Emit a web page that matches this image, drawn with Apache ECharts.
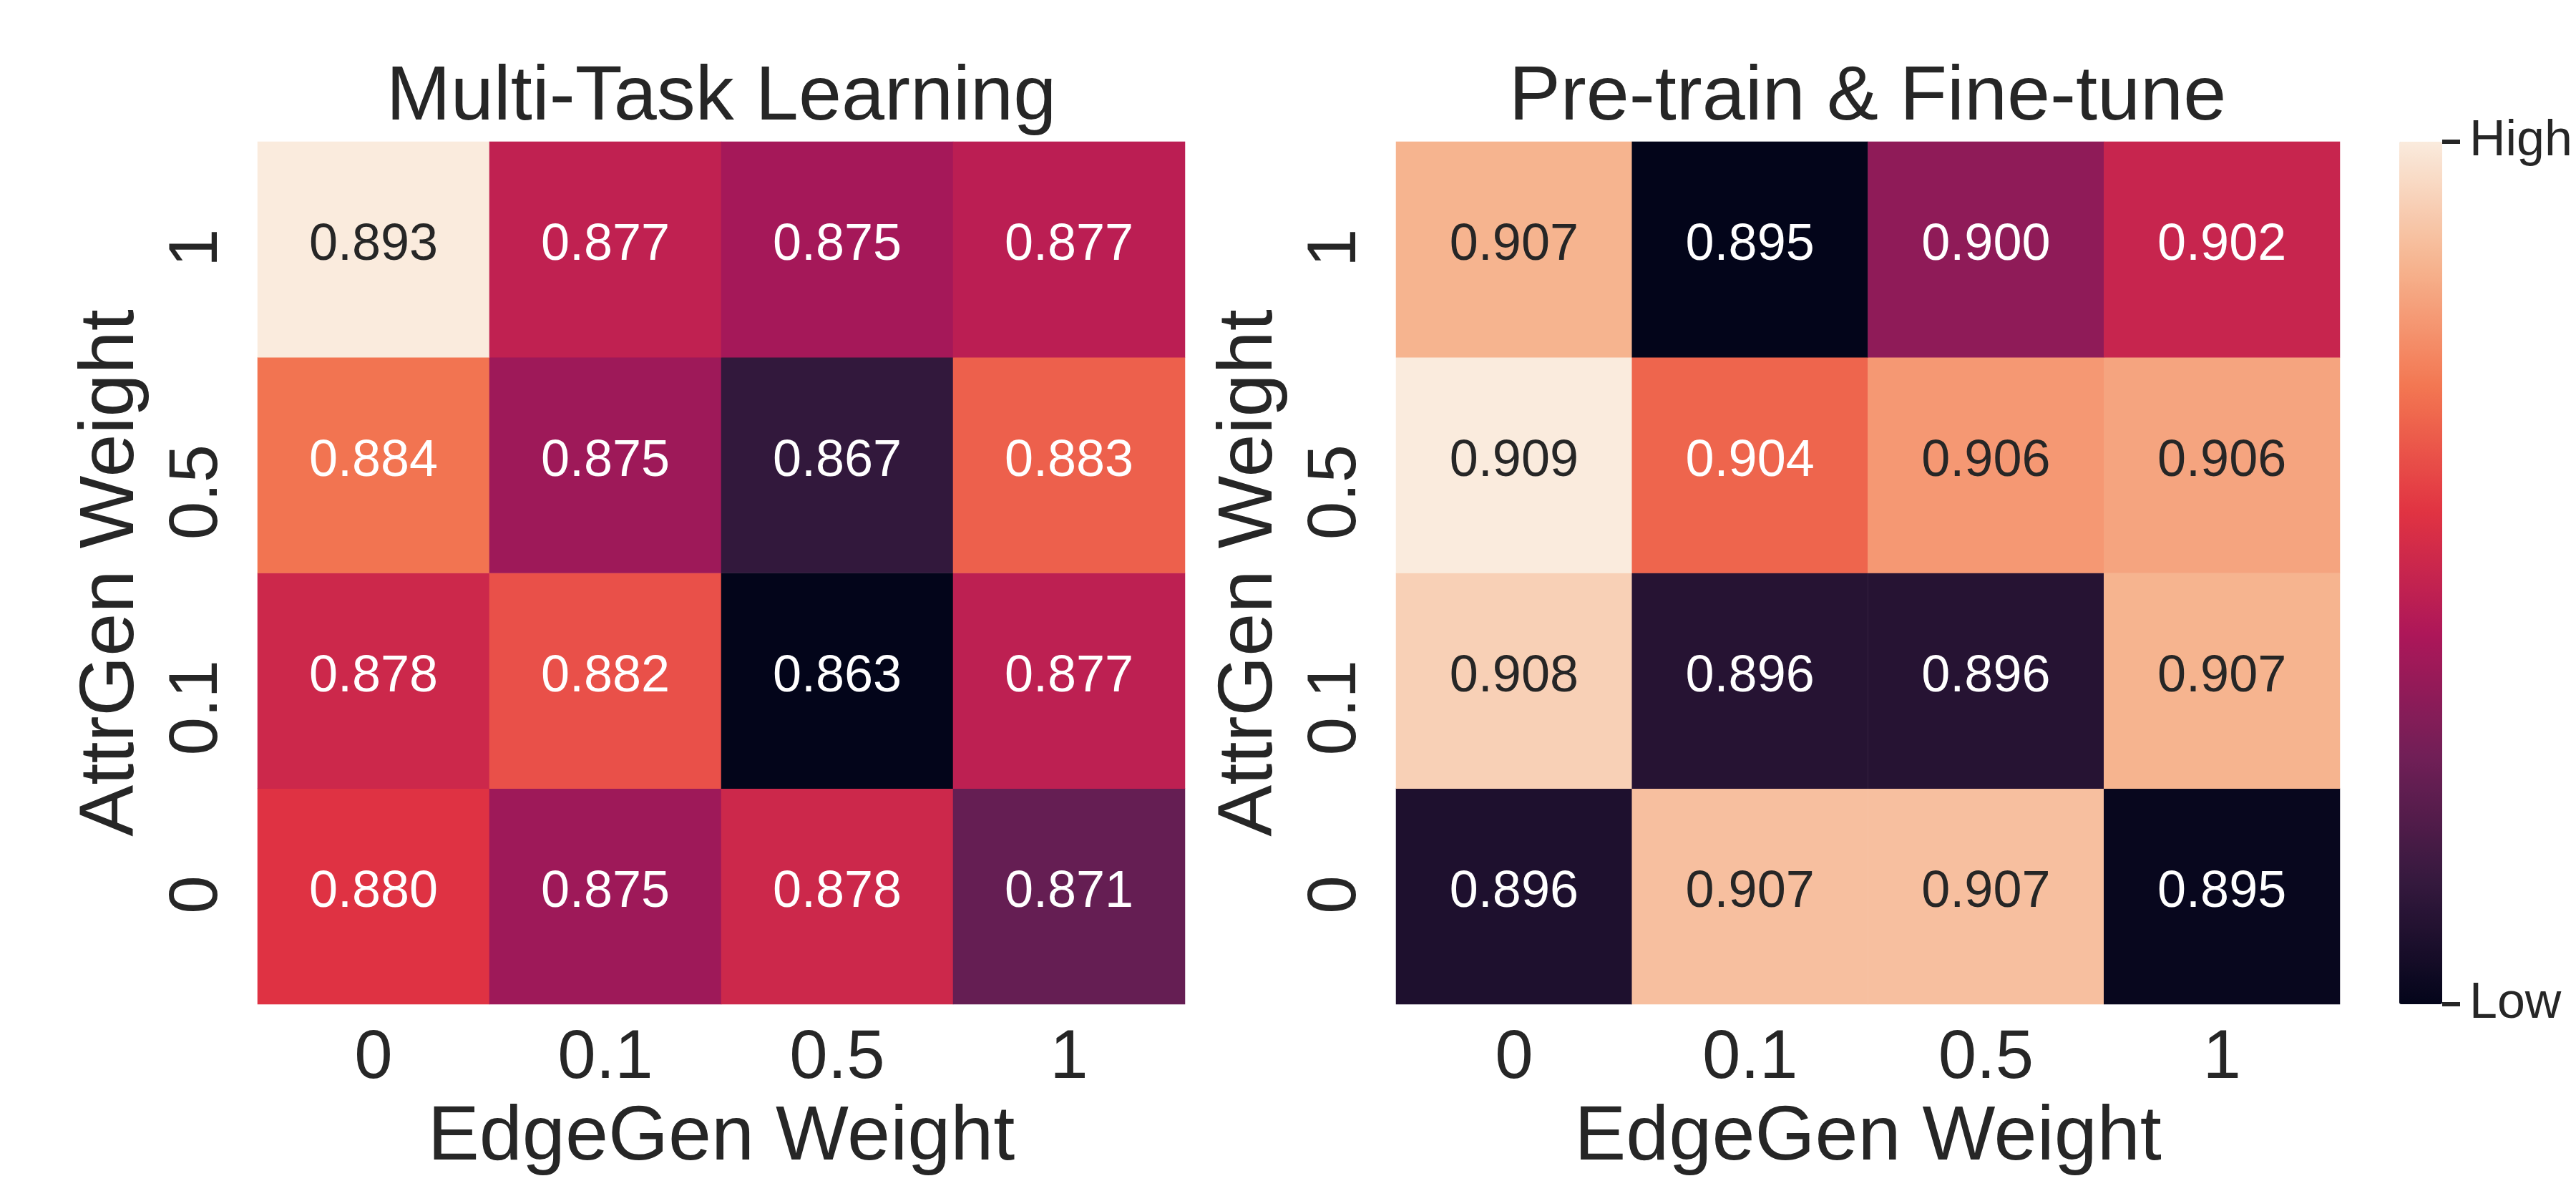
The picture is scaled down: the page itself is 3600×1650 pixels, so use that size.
<!DOCTYPE html>
<html>
<head>
<meta charset="utf-8">
<script src="https://cdn.jsdelivr.net/npm/echarts@6/dist/echarts.min.js"></script>
<style>
  html, body { margin: 0; padding: 0; background: #ffffff; }
  #chart { width: 3600px; height: 1650px; }
</style>
</head>
<body>
<div id="chart"></div>
<script>
// ---- data ----
const edgeGenWeights = ['0', '0.1', '0.5', '1'];      // x categories
const attrGenWeights = ['0', '0.1', '0.5', '1'];      // y categories (bottom -> top)
const panelTitles = ['Multi-Task Learning', 'Pre-train & Fine-tune'];
const xAxisName = 'EdgeGen Weight';
const yAxisName = 'AttrGen Weight';
const colorbarTicks = ['Low', 'High'];

// rows follow attrGenWeights (0, 0.1, 0.5, 1); columns follow edgeGenWeights
const mtlRow0   = [0.8800, 0.8748, 0.8784, 0.8708];
const mtlRow01  = [0.8784, 0.8820, 0.8630, 0.8772];
const mtlRow05  = [0.8843, 0.8748, 0.8670, 0.8830];
const mtlRow1   = [0.8930, 0.8774, 0.8753, 0.8770];

const ptfRow0   = [0.8961, 0.9074, 0.9074, 0.8952];
const ptfRow01  = [0.9080, 0.8964, 0.8964, 0.9070];
const ptfRow05  = [0.9090, 0.9045, 0.9061, 0.9065];
const ptfRow1   = [0.9070, 0.8950, 0.9000, 0.9020];

const mtlRows = [mtlRow0, mtlRow01, mtlRow05, mtlRow1];
const ptfRows = [ptfRow0, ptfRow01, ptfRow05, ptfRow1];

// seaborn "rocket" colormap
const rocket = ['#03051a', '#35193e', '#701f57', '#ad1759', '#e13342', '#f37651', '#f6b48f', '#faebdd'];

// ---- helpers ----
const FONT = "'Liberation Sans', Arial, Helvetica, sans-serif";
const TXT = '#262626';

function hexToRgb(h) {
  return [parseInt(h.slice(1, 3), 16), parseInt(h.slice(3, 5), 16), parseInt(h.slice(5, 7), 16)];
}
function rocketAt(t) {
  t = Math.max(0, Math.min(1, t));
  const n = rocket.length - 1;
  const p = t * n;
  const i = Math.min(Math.floor(p), n - 1);
  const f = p - i;
  const a = hexToRgb(rocket[i]), b = hexToRgb(rocket[i + 1]);
  return [0, 1, 2].map(k => a[k] + (b[k] - a[k]) * f);
}
function luminance(rgb) {
  const c = rgb.map(v => {
    v = v / 255;
    return v <= 0.03928 ? v / 12.92 : Math.pow((v + 0.055) / 1.055, 2.4);
  });
  return 0.2126 * c[0] + 0.7152 * c[1] + 0.0722 * c[2];
}
function buildData(rows) {
  const flat = rows.flat();
  const mn = Math.min(...flat), mx = Math.max(...flat);
  const data = [];
  rows.forEach((row, yi) => {
    row.forEach((v, xi) => {
      const lum = luminance(rocketAt((v - mn) / (mx - mn)));
      data.push({ value: [xi, yi, v], label: { color: lum > 0.408 ? TXT : '#ffffff' } });
    });
  });
  return { data, mn, mx };
}

const mtl = buildData(mtlRows);
const ptf = buildData(ptfRows);

const grids = [
  { left: 360, top: 198, width: 1296, height: 1205 },
  { left: 1951, top: 198, width: 1319, height: 1205 },
  { left: 3353, top: 198, width: 60, height: 1205 }
];

function xAxisFor(idx) {
  return {
    gridIndex: idx, type: 'category', data: edgeGenWeights, position: 'bottom',
    axisLine: { show: false }, axisTick: { show: false }, splitLine: { show: false },
    axisLabel: { interval: 0, margin: 29, fontSize: 96, lineHeight: 96, color: TXT, fontFamily: FONT },
    name: xAxisName, nameLocation: 'middle', nameGap: 133,
    nameTextStyle: { fontSize: 108, lineHeight: 108, color: TXT, fontFamily: FONT }
  };
}
function yAxisFor(idx) {
  return {
    gridIndex: idx, type: 'category', data: attrGenWeights, position: 'left',
    axisLine: { show: false }, axisTick: { show: false }, splitLine: { show: false },
    axisLabel: {
      interval: 0, rotate: 90, align: 'right', verticalAlign: 'bottom',
      padding: [0, -29, 0, 0], margin: 35, fontSize: 96, lineHeight: 96, color: TXT, fontFamily: FONT
    },
    name: yAxisName, nameLocation: 'middle', nameGap: 150, nameRotate: 90,
    nameTextStyle: { fontSize: 108, lineHeight: 108, color: TXT, fontFamily: FONT }
  };
}

const cellLabel = {
  show: true, fontSize: 72, lineHeight: 72, fontFamily: FONT, offset: [0, -5],
  formatter: p => p.value[2].toFixed(3)
};

const option = {
  backgroundColor: '#ffffff',
  animation: false,
  textStyle: { fontFamily: FONT, color: TXT },
  title: [
    { text: panelTitles[0], left: 1008, top: 83, textAlign: 'center', padding: 0,
      textStyle: { fontSize: 108, lineHeight: 108, fontWeight: 'normal', color: TXT, fontFamily: FONT } },
    { text: panelTitles[1], left: 2610, top: 83, textAlign: 'center', padding: 0,
      textStyle: { fontSize: 108, lineHeight: 108, fontWeight: 'normal', color: TXT, fontFamily: FONT } }
  ],
  grid: grids,
  xAxis: [
    xAxisFor(0), xAxisFor(1),
    { gridIndex: 2, type: 'category', data: [''], show: false }
  ],
  yAxis: [
    yAxisFor(0), yAxisFor(1),
    {
      gridIndex: 2, type: 'value', min: 0, max: 1, interval: 1, position: 'right',
      axisLine: { show: false }, splitLine: { show: false },
      axisTick: { show: true, length: 25, lineStyle: { width: 6, color: TXT } },
      axisLabel: { showMinLabel: true, showMaxLabel: true, margin: 38, fontSize: 70, color: TXT, fontFamily: FONT,
        formatter: v => colorbarTicks[Math.round(v)] }
    }
  ],
  visualMap: [
    { type: 'continuous', seriesIndex: 0, dimension: 2, min: mtl.mn, max: mtl.mx, show: false,
      inRange: { color: rocket } },
    { type: 'continuous', seriesIndex: 1, dimension: 2, min: ptf.mn, max: ptf.mx, show: true,
      calculable: false, hoverLink: false, orient: 'vertical',
      left: 3353, top: 198, itemWidth: 60, itemHeight: 1205, padding: 0,
      inRange: { color: rocket } }
  ],
  series: [
    { type: 'heatmap', xAxisIndex: 0, yAxisIndex: 0, data: mtl.data, label: cellLabel,
      itemStyle: { borderWidth: 0 }, emphasis: { disabled: true }, progressive: 0 },
    { type: 'heatmap', xAxisIndex: 1, yAxisIndex: 1, data: ptf.data, label: cellLabel,
      itemStyle: { borderWidth: 0 }, emphasis: { disabled: true }, progressive: 0 }
  ]
};

const chart = echarts.init(document.getElementById('chart'), null, { renderer: 'canvas' });
chart.setOption(option);
</script>
</body>
</html>
